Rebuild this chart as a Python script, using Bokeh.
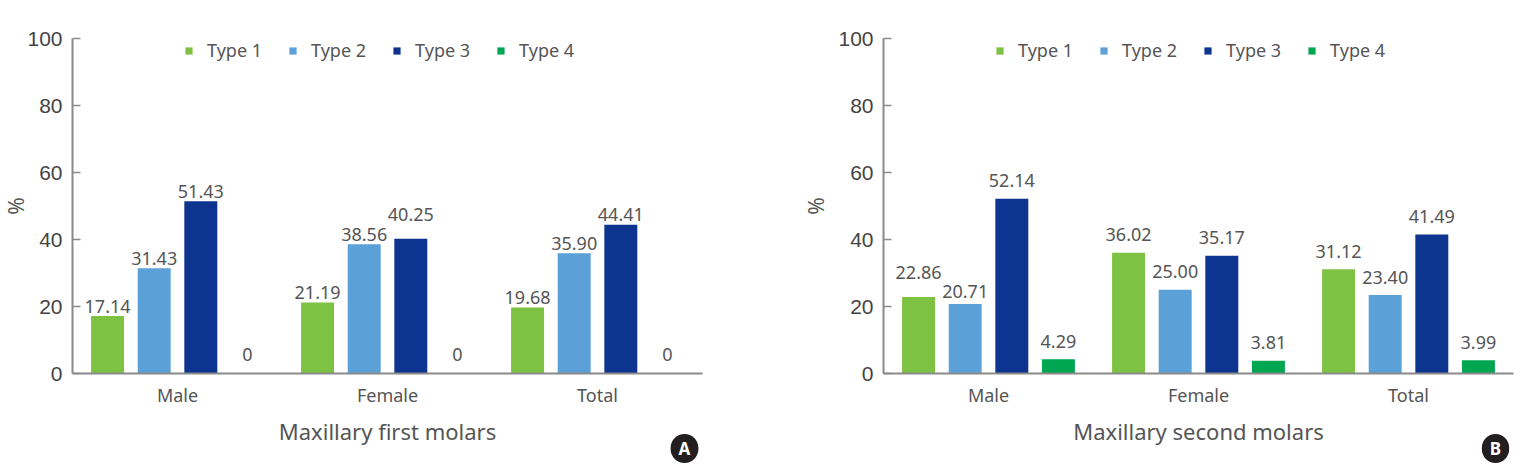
import math
from bokeh.plotting import figure
from bokeh.models import (ColumnDataSource, Range1d, Legend, LegendItem,
                          Label, FixedTicker)
from bokeh.core.properties import value
from bokeh.layouts import row
from bokeh.embed import file_html
from bokeh.resources import INLINE

# ---------------- data ----------------
groups = ["Male", "Female", "Total"]
types = ["Type 1", "Type 2", "Type 3", "Type 4"]

first_type1 = [17.14, 21.19, 19.68]
first_type2 = [31.43, 38.56, 35.90]
first_type3 = [51.43, 40.25, 44.41]
first_type4 = [0, 0, 0]

second_type1 = [22.86, 36.02, 31.12]
second_type2 = [20.71, 25.00, 23.40]
second_type3 = [52.14, 35.17, 41.49]
second_type4 = [4.29, 3.81, 3.99]

y_ticks = [0, 20, 40, 60, 80, 100]

# ---------------- style ----------------
colors = ["#7dc242", "#5ca0d8", "#0d348f", "#00a651"]
offsets = [-0.333, -0.111, 0.111, 0.333]
bar_w = 0.157
TXT = "#555555"
AX = "#8a8a8a"
W, H = 761, 468
PX_X = 210.0      # pixels per group
PX_Y = 3.35       # pixels per percent
Y0 = 373          # canvas y of value 0
YTOP = 38         # canvas y of value 100

# label lift (pixels above bar top) overrides, keyed by (group index, type index)
lift_first = {(1, 2): 24}
lift_second = {(0, 0): 24, (0, 1): 13}


def fmt(v):
    return "0" if v == 0 else f"{v:.2f}"


def make_panel(series, xlabel, badge, lab_off, zero_off, lifts, axis_px, pct_px):
    centers = [i + 0.5 for i in range(len(groups))]
    data = dict(xc=centers)
    for i, s in enumerate(series):
        data[f"x{i}"] = [c + offsets[i] for c in centers]
        data[f"t{i}"] = s
        data[f"l{i}"] = [fmt(v) for v in s]
        data[f"o{i}"] = [-lifts.get((g, i), zero_off if v == 0 else lab_off)
                         for g, v in enumerate(s)]
    src = ColumnDataSource(data)

    x_start = -axis_px / PX_X
    x_end = (W - axis_px) / PX_X
    y_start = -(H - Y0) / PX_Y
    y_end = 100 + YTOP / PX_Y

    p = figure(x_range=Range1d(x_start, x_end), y_range=Range1d(y_start, y_end),
               width=W, height=H, output_backend="svg", toolbar_location=None,
               min_border=0)
    p.outline_line_color = None
    p.grid.visible = False
    p.background_fill_color = "white"

    rends = []
    for i in range(4):
        r = p.vbar(x=f"x{i}", top=f"t{i}", bottom=0, width=bar_w, source=src,
                   fill_color=colors[i], line_color=None)
        rends.append(r)
        p.text(x=f"x{i}", y=f"t{i}", text=f"l{i}",
               y_offset=f"o{i}", source=src, text_align="center",
               text_baseline="alphabetic", text_font=value("Noto Sans"),
               text_font_size="18px", text_color=TXT)

    # x axis
    xa = p.xaxis[0]
    xa.fixed_location = 0
    xa.bounds = (0, 3)
    xa.ticker = FixedTicker(ticks=centers)
    xa.major_label_overrides = {c: g for c, g in zip(centers, groups)}
    xa.axis_line_color = AX
    xa.axis_line_width = 2
    xa.major_tick_line_color = None
    xa.minor_tick_line_color = None
    xa.major_label_text_font = "Noto Sans"
    xa.major_label_text_font_size = "18px"
    xa.major_label_text_color = TXT
    xa.major_label_standoff = 3
    xa.axis_label = xlabel
    xa.axis_label_text_font = "Noto Sans"
    xa.axis_label_text_font_size = "22px"
    xa.axis_label_text_font_style = "normal"
    xa.axis_label_text_color = TXT
    xa.axis_label_standoff = 6

    # y axis
    ya = p.yaxis[0]
    ya.fixed_location = 0
    ya.bounds = (0, 100)
    ya.ticker = FixedTicker(ticks=y_ticks)
    ya.axis_line_color = AX
    ya.axis_line_width = 2
    ya.major_tick_line_color = AX
    ya.major_tick_line_width = 1.5
    ya.major_tick_in = 8
    ya.major_tick_out = 0
    ya.minor_tick_line_color = None
    ya.major_label_text_font = "Liberation Sans"
    ya.major_label_text_font_size = "21px"
    ya.major_label_text_color = "#444444"
    ya.major_label_standoff = 10

    # legend
    legend = Legend(items=[LegendItem(label=types[i], renderers=[rends[i]]) for i in range(4)],
                    orientation="horizontal", location=(axis_px + 112, H - 62),
                    glyph_width=9, glyph_height=9, label_standoff=14, spacing=26,
                    padding=0, margin=0, border_line_color=None,
                    background_fill_alpha=0, label_text_font="Noto Sans",
                    label_text_font_size="18px", label_text_color=TXT, label_height=20)
    p.add_layout(legend)

    # "%" y label
    p.add_layout(Label(x=-pct_px / PX_X, y=50, text="%", angle=math.pi / 2, text_align="center",
                       text_baseline="middle", text_font="Noto Sans",
                       text_font_size="21px", text_color=TXT))
    # panel badge
    p.add_layout(Label(x=612 / PX_X, y=-75 / PX_Y, text=badge, text_align="center",
                       text_baseline="middle", text_font="Noto Sans",
                       text_font_style="bold", text_font_size="17px",
                       text_color="white", background_fill_color="#231f20",
                       border_radius=14, padding=dict(left=8, right=8, top=3, bottom=3)))
    return p


p1 = make_panel([first_type1, first_type2, first_type3, first_type4],
                "Maxillary first molars", "A", 10, 19, lift_first, 72, 57)
p2 = make_panel([second_type1, second_type2, second_type3, second_type4],
                "Maxillary second molars", "B", 18, 18, lift_second, 122, 68)

layout = row(p1, p2)
open("out.html", "w").write(file_html(layout, INLINE))
